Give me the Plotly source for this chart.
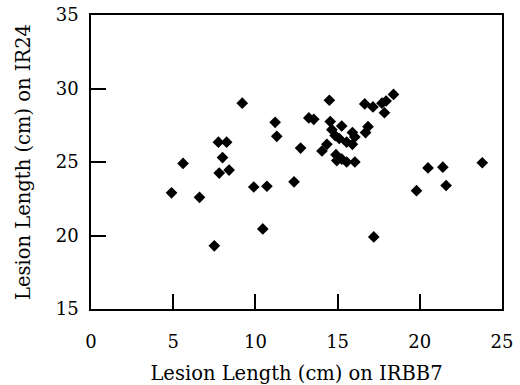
import plotly.graph_objects as go

irbb7 = [4.9, 5.6, 6.6, 7.5, 7.75, 8.25, 8.0, 7.8, 8.4, 9.2, 9.9, 10.7, 10.45,
         11.2, 11.3, 12.35, 12.75, 13.25, 13.55, 14.05, 14.5, 14.55, 14.65,
         14.85, 15.25, 14.35, 14.9, 14.95, 15.25, 15.55, 16.05, 15.55, 15.9,
         15.9, 16.05, 16.85, 16.7, 16.65, 17.15, 17.7, 17.95, 18.4, 17.85,
         17.2, 19.8, 20.5, 21.4, 21.6, 23.8, 15.1]
ir24 = [22.9, 24.9, 22.6, 19.3, 26.35, 26.35, 25.3, 24.25, 24.45, 29.0, 23.3,
        23.35, 20.45, 27.7, 26.75, 23.65, 25.95, 28.0, 27.9, 25.75, 29.2,
        27.75, 27.2, 26.8, 27.45, 26.2, 25.5, 25.1, 25.2, 25.0, 25.0, 26.35,
        26.2, 27.0, 26.7, 27.4, 27.0, 28.95, 28.75, 29.0, 29.15, 29.6, 28.35,
        19.9, 23.05, 24.6, 24.65, 23.4, 24.95, 26.6]

x_ticks = [0, 5, 10, 15, 20, 25]
y_ticks = [15, 20, 25, 30, 35]

tick_font = dict(family="DejaVu Serif", size=18, color="black")
title_font = dict(family="DejaVu Serif", size=19.5, color="black")

fig = go.Figure(go.Scatter(
    x=irbb7, y=ir24, mode="markers",
    marker=dict(symbol="diamond", size=9, color="black"),
))
fig.update_layout(
    width=520, height=385,
    margin=dict(l=91, r=18, t=15, b=76),
    paper_bgcolor="white", plot_bgcolor="white",
    font=tick_font, showlegend=False,
    xaxis=dict(range=[0, 25], tickvals=x_ticks, ticks="inside", ticklen=15,
               tickwidth=1.5, tickcolor="black", showline=True, linecolor="black",
               linewidth=1.5, mirror=True, showgrid=False, zeroline=False,
               automargin=False, tickfont=tick_font, ticklabelstandoff=16,
               title=dict(text="Lesion Length (cm) on IRBB7", font=title_font, standoff=22)),
    yaxis=dict(range=[15, 35], tickvals=y_ticks, ticks="inside", ticklen=15,
               tickwidth=1.5, tickcolor="black", showline=True, linecolor="black",
               linewidth=1.5, mirror=True, showgrid=False, zeroline=False,
               automargin=False, tickfont=tick_font, ticklabelstandoff=7,
               title=dict(text="Lesion Length (cm) on IR24", font=title_font, standoff=20)),
)
fig.write_html("out.html", config={"displayModeBar": False},
               post_script="document.body.style.margin='0';")
